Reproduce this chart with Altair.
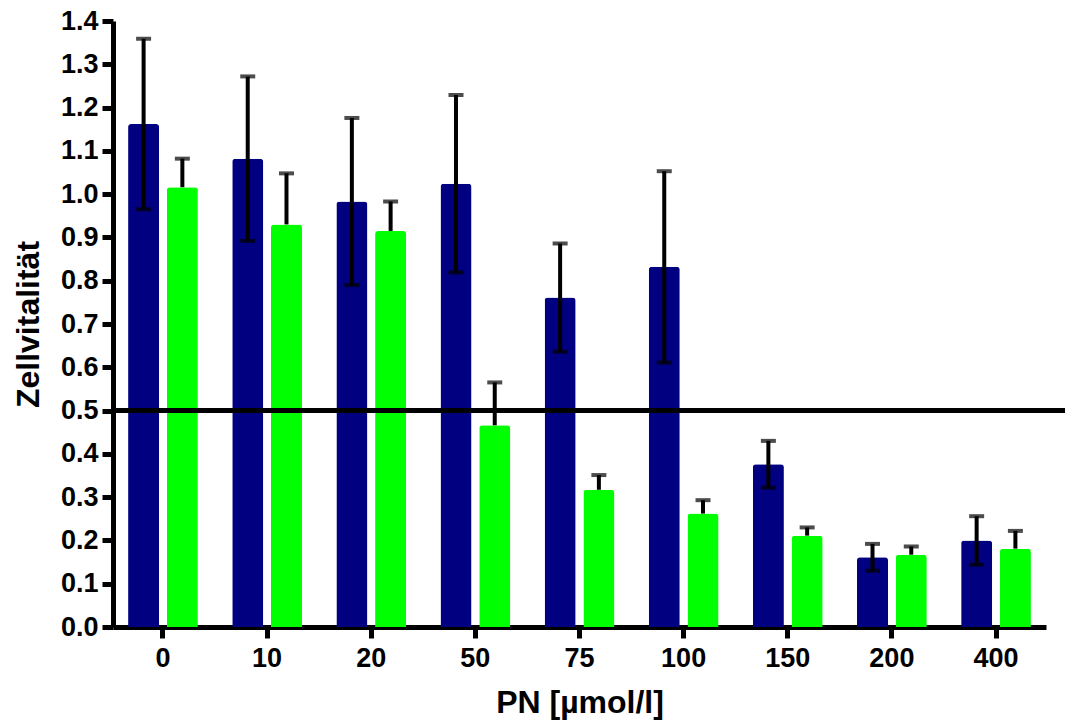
import altair as alt
import pandas as pd

concentrations = ["0", "10", "20", "50", "75", "100", "150", "200", "400"]
series_names = ["Serie 1", "Serie 2"]
navy_mean = [1.162, 1.082, 0.983, 1.024, 0.761, 0.832, 0.376, 0.161, 0.200]
navy_err = [0.197, 0.190, 0.193, 0.205, 0.125, 0.221, 0.054, 0.031, 0.056]
green_mean = [1.016, 0.930, 0.915, 0.466, 0.317, 0.262, 0.211, 0.167, 0.181]
green_err = [0.066, 0.118, 0.068, 0.099, 0.034, 0.031, 0.019, 0.019, 0.041]
y_ticks = [round(i * 0.1, 1) for i in range(15)]
threshold = 0.5

rows = []
caps = []
for c, m, e in zip(concentrations, navy_mean, navy_err):
    rows.append({"PN": c, "Serie": series_names[0], "mean": m, "lo": m - e, "hi": m + e})
    caps.append({"PN": c, "Serie": series_names[0], "y": m - e})
    caps.append({"PN": c, "Serie": series_names[0], "y": m + e})
for c, m, e in zip(concentrations, green_mean, green_err):
    rows.append({"PN": c, "Serie": series_names[1], "mean": m, "lo": m, "hi": m + e})
    caps.append({"PN": c, "Serie": series_names[1], "y": m + e})
df = pd.DataFrame(rows)
df_caps = pd.DataFrame(caps)

FONT = "Liberation Sans"

x_enc = alt.X(
    "PN:N",
    sort=concentrations,
    scale=alt.Scale(paddingInner=0.33, paddingOuter=0.145),
    axis=alt.Axis(
        title="PN [µmol/l]", labelAngle=0, labelPadding=7, titlePadding=16,
    ),
)
xoff = alt.XOffset("Serie:N", sort=series_names, scale=alt.Scale(paddingInner=0.2, paddingOuter=0))
y_scale = alt.Scale(domain=[0, 1.4], nice=False)

bars = alt.Chart(df).mark_bar(cornerRadiusTopLeft=3, cornerRadiusTopRight=3).encode(
    x=x_enc,
    xOffset=xoff,
    y=alt.Y(
        "mean:Q",
        scale=y_scale,
        axis=alt.Axis(title="Zellvitalität", values=y_ticks, format=".1f", titlePadding=15),
    ),
    color=alt.Color(
        "Serie:N",
        scale=alt.Scale(domain=series_names, range=["#000080", "#00FF00"]),
        legend=None,
    ),
)

err = alt.Chart(df).mark_rule(color="black", strokeWidth=4).encode(
    x=alt.X("PN:N", sort=concentrations),
    xOffset=xoff,
    y=alt.Y("lo:Q", scale=y_scale),
    y2="hi:Q",
)

cap = alt.Chart(df_caps).mark_tick(color="black", thickness=4, size=15, orient="horizontal").encode(
    x=alt.X("PN:N", sort=concentrations),
    xOffset=xoff,
    y=alt.Y("y:Q", scale=y_scale),
)

line = alt.Chart(pd.DataFrame({"v": [threshold]})).mark_rule(color="black", strokeWidth=5).encode(
    y=alt.Y("v:Q", scale=y_scale),
    x=alt.value(0),
    x2=alt.value(952),
)

chart = (
    alt.layer(bars, err, cap, line)
    .properties(
        width=933,
        height=606,
        autosize=alt.AutoSizeParams(type="none"),
        padding={"left": 113, "top": 21, "right": 19, "bottom": 97},
    )
    .configure_view(stroke=None)
    .configure_axis(
        grid=False,
        domainColor="black",
        domainWidth=5,
        tickColor="black",
        tickWidth=5,
        tickSize=11,
        labelFont=FONT,
        labelFontWeight="bold",
        labelFontSize=27,
        labelColor="black",
        titleFont=FONT,
        titleFontWeight="bold",
        titleFontSize=32,
        titleColor="black",
    )
    .configure_axisY(labelPadding=4)
)

chart.save("out.html", embed_options={"renderer": "svg", "actions": False})
